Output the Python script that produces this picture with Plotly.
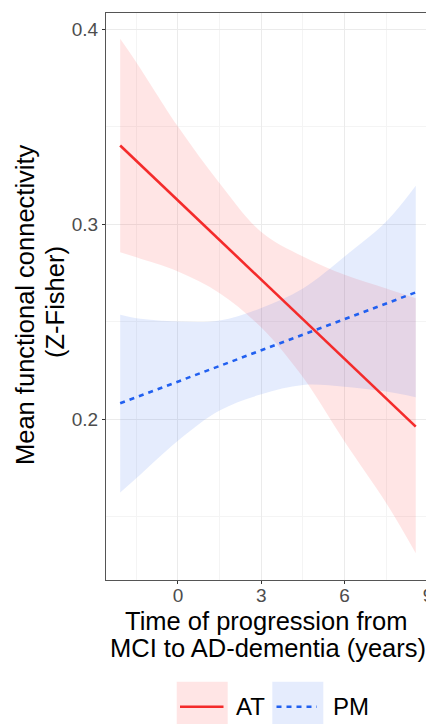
import plotly.graph_objects as go

# ---- data ----
band_x = [-2.08, -1.5, 0.0, 1.5, 3.0, 4.5, 6.0, 7.5, 8.56]
at_upper = [0.395, 0.383, 0.350, 0.321, 0.296, 0.2834, 0.274, 0.267, 0.262]
at_lower = [0.2856, 0.283, 0.2757, 0.2646, 0.247, 0.2215, 0.1885, 0.157, 0.1313]
pm_upper = [0.2535, 0.2518, 0.2501, 0.2506, 0.257, 0.267, 0.2834, 0.3013, 0.3196]
pm_lower = [0.1624, 0.1697, 0.1890, 0.2045, 0.2128, 0.2176, 0.2167, 0.2142, 0.2113]

line_x = [-2.08, 8.56]
at_fit = [0.3403, 0.1962]
pm_fit = [0.2082, 0.2650]

x_ticks = [0, 3, 6, 9]
y_ticks = [0.2, 0.3, 0.4]
y_tick_labels = ["0.2", "0.3", "0.4"]
groups = ["AT", "PM"]

# ---- styling ----
W, H = 440, 724
ML, MR, MT, MB = 106, 4, 13, 144
PW, PH = W - ML - MR, H - MT - MB

RED = "#F42B2B"
BLUE = "#2160F0"
RED_FILL = "rgba(255,0,0,0.10)"
BLUE_FILL = "rgba(40,100,240,0.12)"
FONT = "Liberation Sans, Arial, sans-serif"
TITLE_SIZE = 25.5


def px_x(p):
    return (p - ML) / PW


def px_y(p):
    return (H - MB - p) / PH


fig = go.Figure()

# ribbons
for lo, up, fillc in [(at_lower, at_upper, RED_FILL), (pm_lower, pm_upper, BLUE_FILL)]:
    fig.add_trace(go.Scatter(x=band_x, y=lo, mode="lines", line=dict(width=0, shape="spline"),
                             showlegend=False, hoverinfo="skip"))
    fig.add_trace(go.Scatter(x=band_x, y=up, mode="lines", line=dict(width=0, shape="spline"),
                             fill="tonexty", fillcolor=fillc, showlegend=False, hoverinfo="skip"))

# fitted lines
fig.add_trace(go.Scatter(x=line_x, y=at_fit, mode="lines", name=groups[0],
                         line=dict(color=RED, width=2.6), showlegend=False))
fig.add_trace(go.Scatter(x=line_x, y=pm_fit, mode="lines", name=groups[1],
                         line=dict(color=BLUE, width=2.6, dash="5px,5px"), showlegend=False))

x_lo = -2.59
x_hi = x_lo + PW / 27.78
fig.update_xaxes(range=[x_lo, x_hi], tickmode="array", tickvals=x_ticks,
                 ticktext=[str(t) for t in x_ticks],
                 showgrid=True, gridcolor="#EBEBEB", gridwidth=1.1,
                 minor=dict(tickmode="linear", tick0=-1.5, dtick=3, showgrid=True,
                            gridcolor="#F4F4F4", gridwidth=0.8, ticklen=0),
                 showline=True, linecolor="#555555", linewidth=1, mirror=True,
                 ticks="outside", ticklen=3, tickcolor="#333333",
                 ticklabelstandoff=-5,
                 tickfont=dict(family=FONT, size=19, color="#4D4D4D"),
                 zeroline=False)
fig.update_yaxes(range=[0.1176, 0.4082], tickmode="array", tickvals=y_ticks,
                 ticktext=y_tick_labels,
                 showgrid=True, gridcolor="#EBEBEB", gridwidth=1.1,
                 minor=dict(tickmode="linear", tick0=0.15, dtick=0.1, showgrid=True,
                            gridcolor="#F4F4F4", gridwidth=0.8, ticklen=0),
                 showline=True, linecolor="#555555", linewidth=1, mirror=True,
                 ticks="outside", ticklen=3, tickcolor="#333333",
                 tickfont=dict(family=FONT, size=19, color="#4D4D4D"),
                 zeroline=False)

annotations = [
    dict(text="Time of progression from", x=px_x(266), y=px_y(621), xref="paper", yref="paper",
         showarrow=False, font=dict(family=FONT, size=TITLE_SIZE, color="black"),
         xanchor="center", yanchor="middle"),
    dict(text="MCI to AD-dementia (years)", x=px_x(268), y=px_y(648), xref="paper", yref="paper",
         showarrow=False, font=dict(family=FONT, size=TITLE_SIZE, color="black"),
         xanchor="center", yanchor="middle"),
    dict(text="Mean functional connectivity", x=px_x(25), y=px_y(305), xref="paper", yref="paper",
         textangle=-90, showarrow=False, font=dict(family=FONT, size=TITLE_SIZE, color="black"),
         xanchor="center", yanchor="middle"),
    dict(text="(Z-Fisher)", x=px_x(55), y=px_y(302), xref="paper", yref="paper",
         textangle=-90, showarrow=False, font=dict(family=FONT, size=TITLE_SIZE, color="black"),
         xanchor="center", yanchor="middle"),
    dict(text=groups[0], x=px_x(234), y=px_y(706.5), xref="paper", yref="paper",
         showarrow=False, font=dict(family=FONT, size=24, color="black"), xanchor="left", yanchor="middle"),
    dict(text=groups[1], x=px_x(331), y=px_y(706.5), xref="paper", yref="paper",
         showarrow=False, font=dict(family=FONT, size=24, color="black"), xanchor="left", yanchor="middle"),
]

shapes = [
    dict(type="rect", xref="paper", yref="paper", x0=px_x(176.7), x1=px_x(227.7),
         y0=px_y(681.7), y1=px_y(740), fillcolor=RED_FILL, line=dict(width=0), layer="above"),
    dict(type="rect", xref="paper", yref="paper", x0=px_x(272.3), x1=px_x(323.3),
         y0=px_y(681.7), y1=px_y(740), fillcolor=BLUE_FILL, line=dict(width=0), layer="above"),
    dict(type="line", xref="paper", yref="paper", x0=px_x(180), x1=px_x(223.5),
         y0=px_y(706.7), y1=px_y(706.7), line=dict(color=RED, width=2.6), layer="above"),
    dict(type="line", xref="paper", yref="paper", x0=px_x(276.5), x1=px_x(317),
         y0=px_y(706.7), y1=px_y(706.7), line=dict(color=BLUE, width=2.6, dash="5px,5px"), layer="above"),
]

fig.update_layout(width=W, height=H, margin=dict(l=ML, r=MR, t=MT, b=MB),
                  paper_bgcolor="white", plot_bgcolor="white", showlegend=False,
                  annotations=annotations, shapes=shapes,
                  font=dict(family=FONT))

fig.write_html("out.html", config={"displayModeBar": False},
               post_script="document.body.style.margin='0';document.body.style.overflow='hidden';"
                           "document.documentElement.style.overflow='hidden';")
